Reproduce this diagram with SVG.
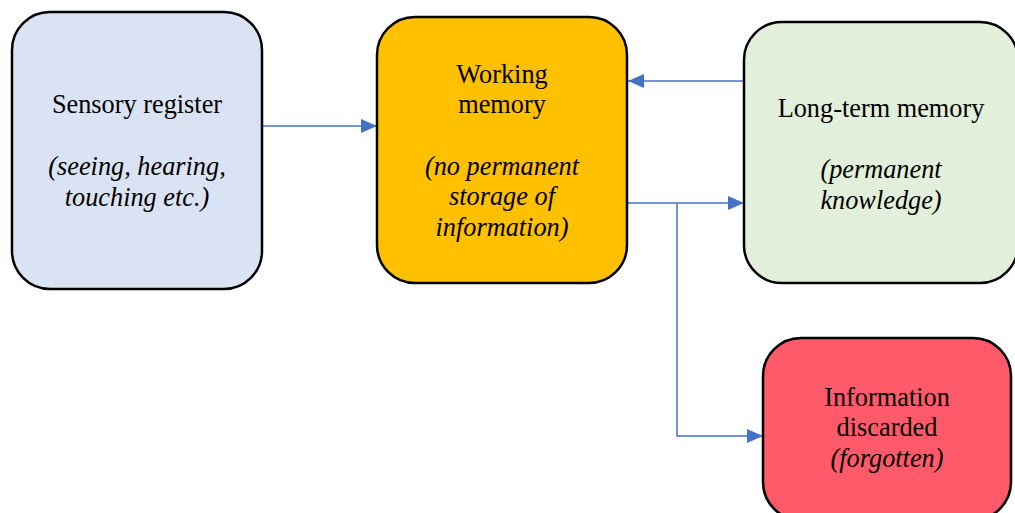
<svg xmlns="http://www.w3.org/2000/svg" width="1015" height="513" viewBox="0 0 1015 513">
  <style>
    .box { stroke: #000; stroke-width: 2.5; }
    .t { font-size: 26.3px; fill: #000; text-anchor: middle; }
    .i { font-style: italic; }
    .conn { fill: none; stroke: #4472C4; stroke-width: 1.5; }
  </style>
  <defs>
    <marker id="arrow" viewBox="0 0 16 14" refX="16" refY="7" markerWidth="16" markerHeight="14" markerUnits="userSpaceOnUse" orient="auto">
      <path d="M0,0 L16,7 L0,14 Z" fill="#4472C4"/>
    </marker>
  </defs>
  <rect width="1015" height="513" fill="#fff"/>

  <g id="connectors">
    <path class="conn" d="M262,126 H377" marker-end="url(#arrow)"/>
    <path class="conn" d="M744,81 H628" marker-end="url(#arrow)"/>
    <path class="conn" d="M627,203 H744" marker-end="url(#arrow)"/>
    <path class="conn" d="M677,203 V436 H763" marker-end="url(#arrow)"/>
  </g>

  <g font-family="Liberation Serif, Tinos, DejaVu Serif, serif">
    <g id="sensory-register">
      <rect class="box" x="12" y="12" width="250" height="277" rx="38" fill="#DAE3F3"/>
      <text class="t" x="137" y="113">Sensory register</text>
      <text class="t i" x="137" y="175">(seeing, hearing,</text>
      <text class="t i" x="137" y="206">touching etc.)</text>
    </g>

    <g id="working-memory">
      <rect class="box" x="377" y="17" width="250" height="266" rx="38" fill="#FFC000"/>
      <text class="t" x="502" y="83">Working</text>
      <text class="t" x="502" y="113">memory</text>
      <text class="t i" x="502" y="175">(no permanent</text>
      <text class="t i" x="502" y="205">storage of</text>
      <text class="t i" x="502" y="236">information)</text>
    </g>

    <g id="long-term-memory">
      <rect class="box" x="744" y="22" width="274" height="261" rx="38" fill="#E2EFDA"/>
      <text class="t" x="881" y="117">Long-term memory</text>
      <text class="t i" x="881" y="178">(permanent</text>
      <text class="t i" x="881" y="209">knowledge)</text>
    </g>

    <g id="information-discarded">
      <rect class="box" x="763" y="338" width="248" height="182" rx="38" fill="#FF5A6A"/>
      <text class="t" x="887" y="406">Information</text>
      <text class="t" x="887" y="436">discarded</text>
      <text class="t i" x="887" y="467">(forgotten)</text>
    </g>
  </g>
</svg>
